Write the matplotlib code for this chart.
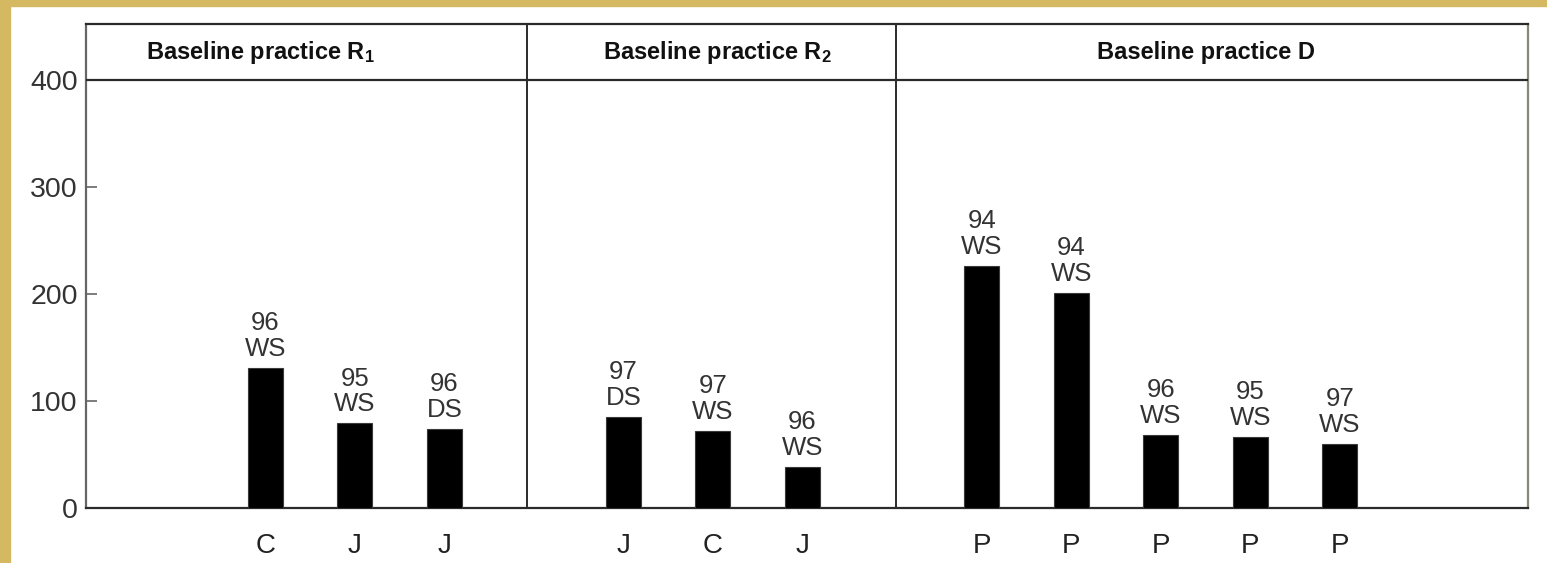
import matplotlib
matplotlib.use("Agg")
import matplotlib.pyplot as plt
from matplotlib.patches import Rectangle

plt.rcParams["font.family"] = ["Liberation Sans", "DejaVu Sans"]
plt.rcParams["mathtext.fontset"] = "custom"
plt.rcParams["mathtext.rm"] = "Liberation Sans"
plt.rcParams["mathtext.bf"] = "Liberation Sans:bold"

# datos
groups = [r"Baseline practice $\mathbf{R_1}$", r"Baseline practice $\mathbf{R_2}$", "Baseline practice D"]
group_sizes = [3, 3, 5]
crops = ["C", "J", "J", "J", "C", "J", "P", "P", "P", "P", "P"]
values = [131, 79, 74, 85, 72, 38, 226, 201, 68, 66, 60]
years = [96, 95, 96, 97, 97, 96, 94, 94, 96, 95, 97]
seasons = ["WS", "WS", "DS", "DS", "WS", "WS", "WS", "WS", "WS", "WS", "WS"]
yticks = [0, 100, 200, 300, 400]

line_c = "#2b2b2b"
gold = "#d4b862"

fig = plt.figure(figsize=(15.47, 5.63), dpi=100)
fig.patch.set_facecolor("white")
# marco dorado
fig.patches.append(Rectangle((0, 0), 10 / 1547, 1, transform=fig.transFigure, color=gold, zorder=0))
fig.patches.append(Rectangle((0, 1 - 6 / 563), 1, 6 / 563, transform=fig.transFigure, color=gold, zorder=0))

ax = fig.add_axes([86 / 1547, 55 / 563, (1528 - 86) / 1547, (508 - 24) / 563])

# posiciones de barras y divisores
positions = []
dividers = []
pos = 2
for n in group_sizes:
    positions += list(range(pos, pos + n))
    dividers.append(pos + n)
    pos += n + 1
dividers = dividers[:-1]
div_shift = [-0.08, 0.04]  # las lineas del original no estan justo al medio

ax.bar(positions, values, width=0.39, color="black", edgecolor="#3a3a3a", linewidth=0.8, zorder=3)

for x, v, yr, s in zip(positions, values, years, seasons):
    ax.annotate(f"{yr}\n{s}", (x, v), xytext=(0, 5), textcoords="offset points",
                ha="center", va="bottom", fontsize=18.5, color="#333333", linespacing=1.1)

ymax = 452
ax.set_xlim(0, 16.1)
ax.set_ylim(0, ymax)
ax.axhline(400, color=line_c, lw=1.6, zorder=4)
for d, sh in zip(dividers, div_shift):
    ax.axvline(d + sh, color=line_c, lw=1.4, zorder=4)

header_x = [1.95, 7.05, 12.5]
for hx, g in zip(header_x, groups):
    ax.text(hx, 425, g, ha="center", va="center", fontsize=17, fontweight="bold", color="#111111")

ax.set_yticks(yticks)
ax.set_yticklabels([str(t) for t in yticks], fontsize=20.5, color="#333333")
ax.tick_params(axis="y", direction="in", length=8, width=1.2, color="#666666", pad=6)
ax.set_xticks(positions)
ax.set_xticklabels(crops, fontsize=20, color="#222222")
ax.tick_params(axis="x", length=0, pad=18)

for sp in ax.spines.values():
    sp.set_color(line_c)
    sp.set_linewidth(1.6)
ax.spines["left"].set_color("#666666")
ax.spines["right"].set_color("#888877")

fig.savefig("out.png", dpi=100)
